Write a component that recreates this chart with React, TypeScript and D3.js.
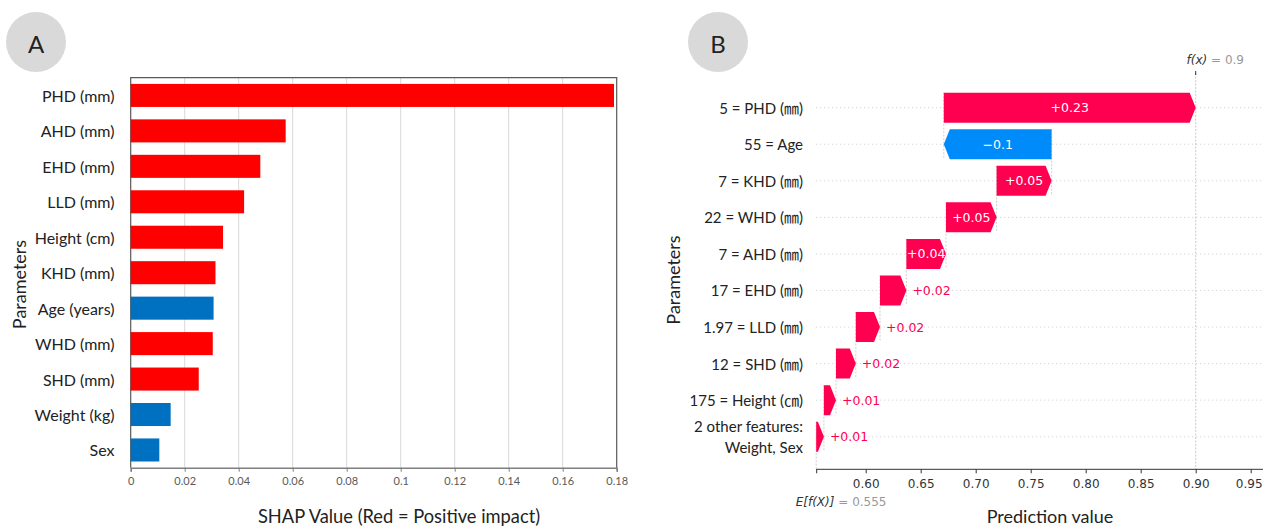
import * as d3 from "d3";
import { useEffect, useRef } from "react";

// panel A: mean |SHAP| per parameter
const paramsA = [
  "PHD (mm)",
  "AHD (mm)",
  "EHD (mm)",
  "LLD (mm)",
  "Height (cm)",
  "KHD (mm)",
  "Age (years)",
  "WHD (mm)",
  "SHD (mm)",
  "Weight (kg)",
  "Sex",
];
const shapA = [0.179, 0.0574, 0.048, 0.042, 0.0342, 0.0314, 0.0307, 0.0304, 0.0252, 0.0148, 0.0106];
const positiveA = [true, true, true, true, true, true, false, true, true, false, false];
const ticksA = [0, 0.02, 0.04, 0.06, 0.08, 0.1, 0.12, 0.14, 0.16, 0.18];

// panel B: waterfall for one patient (top row first)
const paramsB = [
  "5 = PHD (㎜)",
  "55 = Age",
  "7 = KHD (㎜)",
  "22 = WHD (㎜)",
  "7 = AHD (㎜)",
  "17 = EHD (㎜)",
  "1.97 = LLD (㎜)",
  "12 = SHD (㎜)",
  "175 = Height (㎝)",
  "2 other features:|Weight, Sex",
];
const contribB = [0.229, -0.098, 0.05, 0.046, 0.036, 0.024, 0.022, 0.018, 0.011, 0.007];
const baseValue = 0.555;
const ticksB = [0.6, 0.65, 0.7, 0.75, 0.8, 0.85, 0.9, 0.95];

const SANS = "Lato, 'Noto Sans CJK SC', sans-serif";
const DJ = "'DejaVu Sans', sans-serif";
const PINK = "#ff0051";
const BLUE = "#008bfb";

function fmt(v: number) {
  let s = Math.abs(v).toFixed(2).replace(/0+$/, "").replace(/\.$/, "");
  return (v < 0 ? "\u2212" : "+") + s;
}

export default function App() {
  const ref = useRef<SVGSVGElement>(null);

  useEffect(() => {
    const svg = d3.select(ref.current);
    svg.selectAll("*").remove();

    // letter badges
    const badges = [
      { t: "A", x: 36 },
      { t: "B", x: 718 },
    ];
    badges.forEach((b) => {
      svg.append("circle").attr("cx", b.x).attr("cy", 42).attr("r", 30).attr("fill", "#d9d9d9");
      svg
        .append("text")
        .attr("x", b.x)
        .attr("y", 43)
        .attr("text-anchor", "middle")
        .attr("dominant-baseline", "central")
        .attr("font-family", SANS)
        .attr("font-size", 24)
        .attr("fill", "#222")
        .text(b.t);
    });

    // ---------- panel A ----------
    const xA = d3.scaleLinear().domain([0, 0.18]).range([130.7, 616.7]);
    const yA = d3.scaleBand().domain(paramsA).range([77.7, 467.7]).paddingInner(0.35).paddingOuter(0.175);
    const gA = svg.append("g");

    gA.selectAll("line.grid")
      .data(ticksA.slice(1, -1))
      .enter()
      .append("line")
      .attr("x1", (d) => xA(d))
      .attr("x2", (d) => xA(d))
      .attr("y1", 77.7)
      .attr("y2", 467.7)
      .attr("stroke", "#d9d9d9")
      .attr("stroke-width", 1);

    // frame
    gA.append("path")
      .attr("d", `M${xA(0)},467.7 V77.7 H${xA(0.18)} V467.7`)
      .attr("fill", "none")
      .attr("stroke", "#595959")
      .attr("stroke-width", 1.2);

    gA.selectAll("rect.bar")
      .data(shapA)
      .enter()
      .append("rect")
      .attr("x", xA(0))
      .attr("y", (_, i) => yA(paramsA[i])!)
      .attr("width", (d) => xA(d) - xA(0))
      .attr("height", yA.bandwidth())
      .attr("fill", (_, i) => (positiveA[i] ? "#ff0000" : "#0070c0"));

    const axA = gA
      .append("g")
      .attr("transform", "translate(0,467.7)")
      .call(
        d3
          .axisBottom(xA)
          .tickValues(ticksA)
          .tickSize(4)
          .tickPadding(6)
          .tickFormat((d) => String(+d))
      );
    axA.select(".domain").attr("stroke", "#7f7f7f").attr("stroke-width", 1.5);
    axA.selectAll(".tick line").attr("stroke", "#7f7f7f");
    axA.selectAll("text").attr("font-family", SANS).attr("font-size", 11).attr("fill", "#595959");

    gA.selectAll("text.lab")
      .data(paramsA)
      .enter()
      .append("text")
      .attr("x", 114.5)
      .attr("y", (d) => yA(d)! + yA.bandwidth() / 2)
      .attr("text-anchor", "end")
      .attr("dominant-baseline", "central")
      .attr("font-family", SANS)
      .attr("font-size", 16)
      .attr("fill", "#222")
      .text((d) => d);

    gA.append("text")
      .attr("x", 399)
      .attr("y", 516)
      .attr("text-anchor", "middle")
      .attr("dominant-baseline", "central")
      .attr("font-family", SANS)
      .attr("font-size", 18.3)
      .attr("fill", "#222")
      .text("SHAP Value (Red = Positive impact)");

    gA.append("text")
      .attr("transform", "translate(18.5,284.5) rotate(-90)")
      .attr("text-anchor", "middle")
      .attr("dominant-baseline", "central")
      .attr("font-family", SANS)
      .attr("font-size", 18)
      .attr("fill", "#222")
      .text("Parameters");

    // ---------- panel B ----------
    const xB = d3.scaleLinear().domain([baseValue, 0.96]).range([816.2, 1261.7]);
    const yB = d3.scalePoint().domain(paramsB).range([107.7, 436.7]);
    const barH = 30;
    const axisY = 469.3;
    const gB = svg.append("g");

    // running sums from the bottom row up
    const starts: number[] = new Array(contribB.length);
    const ends: number[] = new Array(contribB.length);
    let cum = baseValue;
    for (let i = contribB.length - 1; i >= 0; i--) {
      starts[i] = cum;
      cum += contribB[i];
      ends[i] = cum;
    }
    const fx = cum;

    // row guide lines
    gB.selectAll("line.row")
      .data(paramsB)
      .enter()
      .append("line")
      .attr("x1", xB(baseValue))
      .attr("x2", 1263)
      .attr("y1", (d) => yB(d)!)
      .attr("y2", (d) => yB(d)!)
      .attr("stroke", "#c8c8c8")
      .attr("stroke-width", 0.9)
      .attr("stroke-dasharray", "1,3");

    // connectors between rows
    gB.selectAll("line.conn")
      .data(contribB.slice(1))
      .enter()
      .append("line")
      .attr("x1", (_, j) => xB(ends[j + 1]))
      .attr("x2", (_, j) => xB(ends[j + 1]))
      .attr("y1", (_, j) => yB(paramsB[j])! - barH / 2)
      .attr("y2", (_, j) => yB(paramsB[j + 1])! + barH / 2)
      .attr("stroke", "#bbbbbb")
      .attr("stroke-width", 0.7)
      .attr("stroke-dasharray", "2,1.5");

    // f(x) and E[f(X)] lines
    gB.append("line")
      .attr("x1", xB(fx))
      .attr("x2", xB(fx))
      .attr("y1", 73)
      .attr("y2", axisY)
      .attr("stroke", "#bbbbbb")
      .attr("stroke-width", 0.8)
      .attr("stroke-dasharray", "2,1.5");
    gB.append("line")
      .attr("x1", xB(fx))
      .attr("x2", xB(fx))
      .attr("y1", 71)
      .attr("y2", 75)
      .attr("stroke", "#333")
      .attr("stroke-width", 1);
    gB.append("line")
      .attr("x1", xB(baseValue))
      .attr("x2", xB(baseValue))
      .attr("y1", yB(paramsB[paramsB.length - 1])! - barH / 2)
      .attr("y2", axisY)
      .attr("stroke", "#bbbbbb")
      .attr("stroke-width", 0.7)
      .attr("stroke-dasharray", "2,1.5");

    // arrows
    const head = 6;
    contribB.forEach((v, i) => {
      const y = yB(paramsB[i])!;
      const x0 = xB(starts[i]);
      const x1 = xB(ends[i]);
      const w = Math.abs(x1 - x0);
      const h = Math.min(head, w);
      const dir = v >= 0 ? 1 : -1;
      const pts: [number, number][] = [
        [x0, y - barH / 2],
        [x1 - dir * h, y - barH / 2],
        [x1, y],
        [x1 - dir * h, y + barH / 2],
        [x0, y + barH / 2],
      ];
      gB.append("path")
        .attr("d", d3.line()(pts) + "Z")
        .attr("fill", v >= 0 ? PINK : BLUE);

      const t = gB
        .append("text")
        .attr("y", y)
        .attr("dominant-baseline", "central")
        .attr("font-family", DJ)
        .attr("font-size", 12.5)
        .text(fmt(v));
      const tw = (t.node() as SVGTextElement).getComputedTextLength();
      if (tw < w) {
        t.attr("x", (x0 + x1) / 2).attr("text-anchor", "middle").attr("fill", "#fff");
      } else if (v >= 0) {
        t.attr("x", x1 + 6).attr("text-anchor", "start").attr("fill", PINK);
      } else {
        t.attr("x", x1 - 6).attr("text-anchor", "end").attr("fill", BLUE);
      }
    });

    // row labels
    paramsB.forEach((p) => {
      const parts = p.split("|");
      const t = gB
        .append("text")
        .attr("x", 803)
        .attr("y", yB(p)!)
        .attr("text-anchor", "end")
        .attr("font-family", SANS)
        .attr("font-size", 15)
        .attr("fill", "#222");
      parts.forEach((s, k) => {
        t.append("tspan")
          .attr("x", 803)
          .attr("y", yB(p)! + (parts.length === 1 ? 0 : k === 0 ? -10.5 : 10.5))
          .attr("dominant-baseline", "central")
          .text(s);
      });
    });

    // x axis
    const axB = gB
      .append("g")
      .attr("transform", `translate(0,${axisY})`)
      .call(
        d3
          .axisBottom(xB)
          .tickValues([baseValue, ...ticksB])
          .tickSize(4)
          .tickPadding(6)
          .tickFormat((d) => (+d === baseValue ? "" : d3.format(".2f")(+d)))
      );
    axB.select(".domain").attr("d", `M${xB(baseValue)},0H1263`).attr("stroke", "#333").attr("stroke-width", 1);
    axB.selectAll(".tick line").attr("stroke", "#333");
    axB.selectAll("text").attr("font-family", DJ).attr("font-size", 12).attr("fill", "#333");
    // keep the last label inside the page edge
    axB.selectAll<SVGTextElement, number>(".tick text")
      .filter((d) => d === ticksB[ticksB.length - 1])
      .attr("text-anchor", "end")
      .attr("x", 1262 - xB(ticksB[ticksB.length - 1]));

    // f(x) / E[f(X)] labels
    const fxT = gB
      .append("text")
      .attr("x", 1186.5)
      .attr("y", 60)
      .attr("dominant-baseline", "central")
      .attr("font-family", DJ)
      .attr("font-size", 12);
    fxT.append("tspan").attr("font-style", "italic").attr("fill", "#333").text("f(x)");
    fxT.append("tspan").attr("fill", "#999").text(" = " + d3.format(".1f")(fx));

    const efT = gB
      .append("text")
      .attr("x", 886.5)
      .attr("y", 502)
      .attr("text-anchor", "end")
      .attr("dominant-baseline", "central")
      .attr("font-family", DJ)
      .attr("font-size", 12);
    efT.append("tspan").attr("font-style", "italic").attr("fill", "#333").text("E[f(X)]");
    efT.append("tspan").attr("fill", "#999").text(" = " + baseValue);

    gB.append("text")
      .attr("x", 1050)
      .attr("y", 516)
      .attr("text-anchor", "middle")
      .attr("dominant-baseline", "central")
      .attr("font-family", SANS)
      .attr("font-size", 18)
      .attr("fill", "#222")
      .text("Prediction value");

    gB.append("text")
      .attr("transform", "translate(673,280) rotate(-90)")
      .attr("text-anchor", "middle")
      .attr("dominant-baseline", "central")
      .attr("font-family", SANS)
      .attr("font-size", 18)
      .attr("fill", "#222")
      .text("Parameters");
  }, []);

  return (
    <svg
      ref={ref}
      width={1263}
      height={527}
      style={{ position: "absolute", left: 0, top: 0, display: "block", background: "#fff" }}
    ></svg>
  );
}
